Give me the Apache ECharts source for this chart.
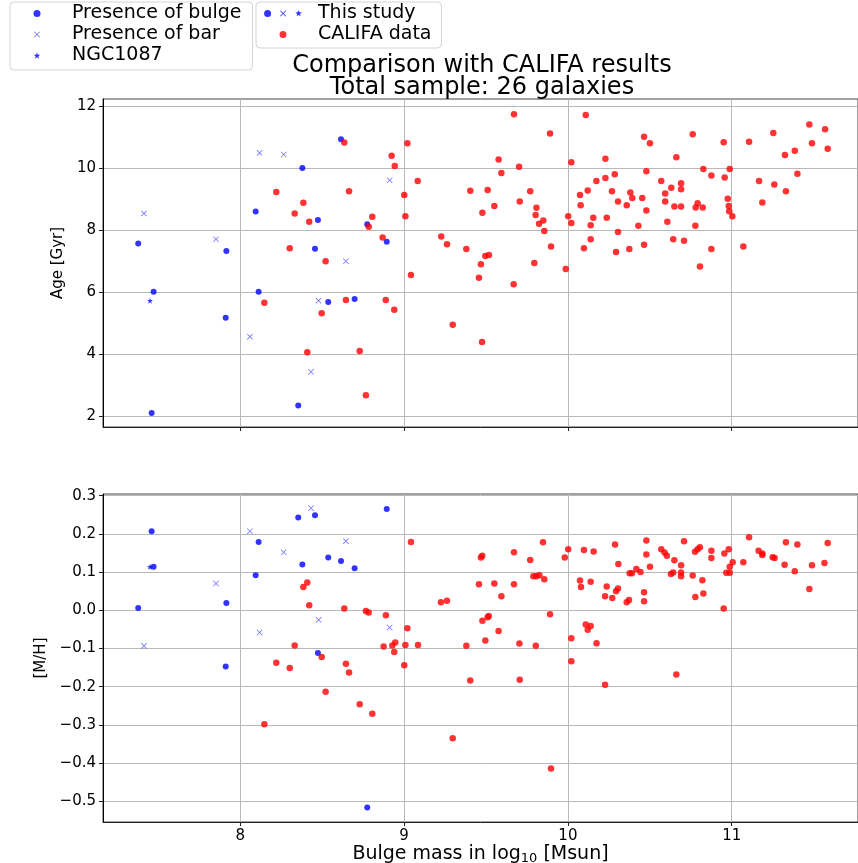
<!DOCTYPE html>
<html>
<head>
<meta charset="utf-8" />
<title>Comparison with CALIFA results</title>
<script src="https://cdn.jsdelivr.net/npm/echarts@6/dist/echarts.min.js"></script>
<style>
  html, body { margin: 0; padding: 0; background: #fff; }
  #chart { width: 858px; height: 863px; }
</style>
</head>
<body>
<div id="chart"></div>
<script>
// --- this study: bulge mass (log10 Msun), age (Gyr), [M/H]
var bulgeMass = [8.615, 8.379, 8.094, 8.474, 7.377, 7.915, 8.456, 7.471, 8.112, 8.537, 8.698, 7.911, 8.354, 7.459, 8.775, 8.894];
var bulgeAge  = [10.93, 10.00, 8.60, 8.33, 7.57, 7.33, 7.40, 6.02, 6.02, 5.69, 5.78, 5.18, 2.35, 2.11, 8.19, 7.63];
var bulgeMH   = [0.129, 0.120, 0.092, -0.112, 0.006, 0.019, 0.249, 0.114, 0.179, 0.138, 0.110, -0.147, 0.243, 0.207, -0.516, 0.265];

var barMass = [8.118, 8.265, 7.412, 7.852, 8.645, 8.478, 8.059, 8.432, 8.912];
var barAge  = [10.49, 10.44, 8.54, 7.71, 7.00, 5.73, 4.57, 3.44, 9.61];
var barMH   = [-0.058, 0.152, -0.093, 0.070, 0.181, -0.025, 0.207, 0.267, -0.045];

var ngcMass = [7.449];
var ngcAge  = [5.73];
var ngcMH   = [0.114];

// --- CALIFA sample, upper panel (age)
var califaMassA = [8.635, 8.220, 8.664, 8.385, 8.332, 8.421, 8.302, 8.521, 8.147, 8.645, 8.497, 8.409, 8.729,
  9.671, 10.109, 9.891, 9.020, 8.924, 9.577, 8.943, 9.702, 10.021, 10.229, 9.594, 9.083, 9.404, 9.510, 9.770, 9.001,
  9.706, 9.551, 10.074, 10.121, 10.174, 10.229, 9.808, 9.478, 8.806, 9.008, 9.803, 9.850, 9.824, 8.784, 9.856, 10.078,
  10.002, 10.021, 10.139, 10.155, 10.237, 8.869, 9.227, 9.262, 9.380, 10.139, 10.098, 9.897, 9.496, 9.518, 9.469,
  9.795, 9.987, 9.457, 9.042, 9.669, 8.888, 8.940, 9.297, 9.476, 8.767,
  11.474, 11.570, 11.254, 10.762, 10.465, 10.501, 10.951, 11.106, 11.490, 11.586, 11.385, 11.325, 10.662, 10.827,
  10.988, 10.479, 10.876, 10.957, 11.401, 10.286, 10.570, 11.167, 11.260, 10.631, 10.691, 10.691, 11.331, 10.269,
  10.381, 10.393, 10.454, 10.594, 10.306, 10.359, 10.594, 10.479, 10.650, 10.691, 10.792, 10.780, 10.823, 10.976,
  10.982, 10.985, 11.004, 11.187, 10.607, 10.430, 10.778, 10.306, 10.643, 10.709, 10.465, 11.071, 10.294, 10.375,
  10.876, 10.806];
var califaAge = [10.82, 9.23, 9.25, 8.88, 8.54, 8.27, 7.42, 7.00, 5.66, 5.75, 5.32, 4.07, 4.11,
  11.73, 11.71, 11.11, 10.80, 10.40, 10.28, 10.07, 10.04, 10.19, 10.30, 9.84, 9.58, 9.27, 9.29, 9.25, 9.13,
  8.92, 8.78, 9.13, 9.28, 9.58, 9.68, 8.72, 8.56, 8.43, 8.45, 8.49, 8.31, 8.21, 8.11, 7.97, 8.80,
  8.45, 8.23, 8.16, 8.40, 8.40, 7.76, 7.80, 7.55, 7.39, 7.71, 7.42, 7.47, 7.17, 7.20, 6.90,
  6.94, 6.75, 6.47, 6.56, 6.26, 5.75, 5.44, 4.95, 4.40, 2.68,
  11.40, 11.25, 11.13, 11.09, 11.01, 10.80, 10.83, 10.85, 10.80, 10.62, 10.56, 10.42, 10.35, 9.97,
  9.97, 9.90, 9.76, 9.70, 9.82, 9.80, 9.58, 9.58, 9.47, 9.37, 9.51, 9.32, 9.25, 9.25,
  9.21, 9.04, 9.04, 9.18, 8.92, 8.80, 8.92, 8.63, 8.76, 8.76, 8.87, 8.73, 8.73, 9.01,
  8.78, 8.61, 8.45, 8.89, 8.27, 8.14, 8.14, 7.94, 7.71, 7.66, 7.53, 7.47, 7.30, 7.39,
  7.39, 6.83];

// --- CALIFA sample, lower panel ([M/H])
var califaMassM = [8.409, 8.385, 8.421, 8.635, 8.332, 8.497, 8.220, 8.302, 8.645, 8.664, 8.521, 8.729, 8.147,
  9.042, 9.848, 10.002, 10.098, 10.157, 9.671, 9.477, 9.469, 9.770, 9.981, 9.789, 9.807, 9.826, 9.856, 9.457, 9.551,
  9.671, 10.074, 10.080, 10.139, 10.237, 9.594, 10.227, 9.225, 9.262, 8.767, 8.784, 8.889, 9.891, 9.517, 9.510,
  9.478, 9.020, 9.577, 10.109, 10.139, 10.121, 10.021, 9.496, 8.875, 8.928, 8.946, 9.008, 9.085, 9.380, 9.704,
  9.804, 10.175, 8.940, 9.001, 10.021, 9.404, 9.706, 10.227, 8.806, 9.297, 9.897,
  11.106, 10.479, 10.709, 11.331, 11.586, 10.288, 11.401, 10.570, 10.806, 10.792, 10.776, 10.876, 10.982, 10.955,
  10.590, 10.604, 10.479, 11.164, 11.187, 11.187, 11.250, 11.262, 10.876, 10.650, 11.006, 11.071, 11.566, 10.308,
  10.501, 10.691, 10.988, 11.323, 11.490, 10.418, 10.443, 10.377, 10.391, 10.629, 10.643, 10.691, 10.691, 10.762,
  10.821, 10.967, 10.988, 11.385, 10.271, 10.294, 10.306, 10.359, 10.373, 10.465, 10.465, 10.778, 10.827, 11.474,
  10.951, 10.662];
var califaMH = [0.073, 0.061, 0.013, 0.005, -0.092, -0.122, -0.137, -0.151, -0.140, -0.163, -0.213, -0.246, -0.298,
  0.179, 0.178, 0.160, 0.158, 0.154, 0.152, 0.143, 0.138, 0.132, 0.138, 0.089, 0.089, 0.092, 0.081, 0.068, 0.070,
  0.068, 0.078, 0.061, 0.075, 0.062, 0.037, 0.037, 0.021, 0.025, -0.002, -0.006, -0.013, -0.010, -0.015, -0.018,
  -0.027, -0.047, -0.054, -0.037, -0.041, -0.051, -0.073, -0.079, -0.095, -0.092, -0.084, -0.091, -0.091, -0.093, -0.087,
  -0.093, -0.086, -0.109, -0.144, -0.133, -0.184, -0.182, -0.195, -0.271, -0.335, -0.414,
  0.191, 0.183, 0.181, 0.178, 0.176, 0.172, 0.172, 0.160, 0.165, 0.160, 0.153, 0.156, 0.160, 0.149,
  0.151, 0.143, 0.146, 0.156, 0.149, 0.145, 0.139, 0.137, 0.137, 0.131, 0.126, 0.126, 0.124, 0.121,
  0.114, 0.118, 0.114, 0.119, 0.118, 0.108, 0.100, 0.097, 0.097, 0.095, 0.099, 0.099, 0.089, 0.091,
  0.079, 0.098, 0.098, 0.102, 0.032, 0.050, 0.057, 0.021, 0.027, 0.047, 0.024, 0.035, 0.044, 0.056,
  0.005, -0.168];

// tick labels
var massTicks = [8, 9, 10, 11];
var ageTicks = [2, 4, 6, 8, 10, 12];
var mhTicks = [-0.5, -0.4, -0.3, -0.2, -0.1, 0.0, 0.1, 0.2, 0.3];

function pairs(xs, ys) {
  return xs.map(function (x, i) { return [x, ys[i]]; });
}

var FONT = 'DejaVu Sans';
var xMark = 'path://M0,0.9L0.9,0L5,4.1L9.1,0L10,0.9L5.9,5L10,9.1L9.1,10L5,5.9L0.9,10L0,9.1L4.1,5Z';
var starMark = 'path://M5,0L6.18,3.38L9.76,3.45L6.9,5.62L7.94,9.05L5,7L2.06,9.05L3.1,5.62L0.24,3.45L3.82,3.38Z';

// legend icons drawn in a 38x7 box (two zero-length anchors keep the box width)
var ANCHORS = 'M0,3.5L0,3.5M38,3.5L38,3.5';
var dotIcon = 'path://' + ANCHORS + 'M15.5,3.5A3.5,3.5,0,1,1,22.5,3.5A3.5,3.5,0,1,1,15.5,3.5Z';
var crossIcon = 'path://' + ANCHORS +
  'M16,1.1L16.6,0.5L19,2.9L21.4,0.5L22,1.1L19.6,3.5L22,5.9L21.4,6.5L19,4.1L16.6,6.5L16,5.9L18.4,3.5Z';
var starIcon = 'path://' + ANCHORS +
  'M19,0L19.83,2.37L22.33,2.42L20.33,3.93L21.06,6.34L19,4.9L16.94,6.34L17.67,3.93L15.67,2.42L18.17,2.37Z';
// dot, cross and star side by side for the "This study" entry
var studyIcon = 'path://M0,3.5A3.5,3.5,0,1,1,7,3.5A3.5,3.5,0,1,1,0,3.5Z' +
  'M16,1.1L16.6,0.5L19,2.9L21.4,0.5L22,1.1L19.6,3.5L22,5.9L21.4,6.5L19,4.1L16.6,6.5L16,5.9L18.4,3.5Z' +
  'M34.5,0L35.33,2.37L37.83,2.42L35.83,3.93L36.56,6.34L34.5,4.9L32.44,6.34L33.17,3.93L31.17,2.42L33.67,2.37Z';

var BLUE = '#0000ff';
var BAR_BLUE = 'rgba(0,0,255,0.7)';
var RED = '#ff0000';

var gridLine = { show: true, lineStyle: { color: '#b8b8b8', width: 1 } };
var tickStyle = { fontFamily: FONT, fontSize: 15, color: '#000' };
var legendText = { fontFamily: FONT, fontSize: 19, color: '#000', padding: [0, 0, 0, 11] };

function massAxis(idx, withLabels) {
  return {
    type: 'value', gridIndex: idx, min: 7.162, max: 11.771,
    axisLine: { show: true, onZero: false, lineStyle: { color: '#222' } },
    axisTick: { show: true, length: 4, inside: false, customValues: massTicks, lineStyle: { color: '#222' } },
    axisLabel: Object.assign({ show: withLabels, margin: 7, customValues: massTicks,
      formatter: function (v) { return String(v); } }, tickStyle),
    splitLine: gridLine,
    name: withLabels ? 'Bulge mass in log{sub|10} [Msun]' : '',
    nameLocation: 'middle', nameGap: 19,
    nameTextStyle: { fontFamily: FONT, fontSize: 19, color: '#000',
      rich: { sub: { fontFamily: FONT, fontSize: 13, color: '#000', padding: [8, 0, 0, 0] } } }
  };
}

var option = {
  animation: false,
  backgroundColor: '#fff',
  title: {
    text: 'Comparison with CALIFA results\nTotal sample: 26 galaxies',
    left: 482, top: 55, padding: 0, textAlign: 'center',
    textStyle: { fontFamily: FONT, fontSize: 24, fontWeight: 'normal', color: '#000', lineHeight: 22 }
  },
  legend: [{
    orient: 'vertical', left: 10, top: 2,
    padding: [2, 11, 5, 8], itemWidth: 38, itemHeight: 7, itemGap: 2,
    backgroundColor: '#fff', borderColor: '#d4d4d4', borderWidth: 1, borderRadius: 4,
    selectedMode: false,
    textStyle: legendText,
    data: [
      { name: 'Presence of bulge', icon: dotIcon },
      { name: 'Presence of bar', icon: crossIcon },
      { name: 'NGC1087', icon: starIcon }
    ]
  }, {
    orient: 'vertical', left: 256, top: 2,
    padding: [2, 10, 4, 8], itemWidth: 38, itemHeight: 7, itemGap: 2,
    backgroundColor: '#fff', borderColor: '#d4d4d4', borderWidth: 1, borderRadius: 4,
    selectedMode: false,
    textStyle: legendText,
    data: [
      { name: 'This study', icon: studyIcon },
      { name: 'CALIFA data', icon: dotIcon }
    ]
  }],
  grid: [
    { left: 103, top: 99, width: 755, height: 328, show: true, borderColor: '#444', borderWidth: 1, outerBoundsMode: 'none' },
    { left: 103, top: 494, width: 755, height: 328, show: true, borderColor: '#444', borderWidth: 1, outerBoundsMode: 'none' }
  ],
  xAxis: [massAxis(0, false), massAxis(1, true)],
  yAxis: [{
    type: 'value', gridIndex: 0, min: 1.66, max: 12.225,
    axisLine: { show: true, onZero: false, lineStyle: { color: '#000' } },
    axisTick: { show: true, length: 4, customValues: ageTicks, lineStyle: { color: '#222' } },
    axisLabel: Object.assign({ margin: 7, customValues: ageTicks,
      formatter: function (v) { return String(v); } }, tickStyle),
    splitLine: gridLine,
    name: 'Age [Gyr]', nameLocation: 'middle', nameGap: 37,
    nameTextStyle: { fontFamily: FONT, fontSize: 15, color: '#000' }
  }, {
    type: 'value', gridIndex: 1, min: -0.554, max: 0.3044, splitNumber: 8,
    axisLine: { show: true, onZero: false, lineStyle: { color: '#000' } },
    axisTick: { show: true, length: 4, customValues: mhTicks, lineStyle: { color: '#222' } },
    axisLabel: Object.assign({ margin: 7, customValues: mhTicks,
      formatter: function (v) { return v.toFixed(1).replace('-', '\u2212'); } }, tickStyle),
    splitLine: gridLine,
    name: '[M/H]', nameLocation: 'middle', nameGap: 53,
    nameTextStyle: { fontFamily: FONT, fontSize: 15, color: '#000' }
  }],
  series: [
    { name: 'Presence of bulge', type: 'scatter', xAxisIndex: 0, yAxisIndex: 0, symbol: 'circle', symbolSize: 6,
      itemStyle: { color: BLUE }, data: pairs(bulgeMass, bulgeAge) },
    { name: 'Presence of bar', type: 'scatter', xAxisIndex: 0, yAxisIndex: 0, symbol: xMark, symbolSize: 6,
      itemStyle: { color: BAR_BLUE }, data: pairs(barMass, barAge) },
    { name: 'NGC1087', type: 'scatter', xAxisIndex: 0, yAxisIndex: 0, symbol: starMark, symbolSize: 6,
      itemStyle: { color: BLUE }, data: pairs(ngcMass, ngcAge) },
    { name: 'CALIFA data', type: 'scatter', xAxisIndex: 0, yAxisIndex: 0, symbol: 'circle', symbolSize: 6.5,
      itemStyle: { color: RED }, data: pairs(califaMassA, califaAge) },

    { name: 'Presence of bulge', type: 'scatter', xAxisIndex: 1, yAxisIndex: 1, symbol: 'circle', symbolSize: 6,
      itemStyle: { color: BLUE }, data: pairs(bulgeMass, bulgeMH) },
    { name: 'Presence of bar', type: 'scatter', xAxisIndex: 1, yAxisIndex: 1, symbol: xMark, symbolSize: 6,
      itemStyle: { color: BAR_BLUE }, data: pairs(barMass, barMH) },
    { name: 'NGC1087', type: 'scatter', xAxisIndex: 1, yAxisIndex: 1, symbol: starMark, symbolSize: 6,
      itemStyle: { color: BLUE }, data: pairs(ngcMass, ngcMH) },
    { name: 'CALIFA data', type: 'scatter', xAxisIndex: 1, yAxisIndex: 1, symbol: 'circle', symbolSize: 6.5,
      itemStyle: { color: RED }, data: pairs(califaMassM, califaMH) },

    // legend-only entry
    { name: 'This study', type: 'scatter', xAxisIndex: 0, yAxisIndex: 0, itemStyle: { color: BLUE }, data: [] }
  ]
};

var chart = echarts.init(document.getElementById('chart'));
chart.setOption(option);
</script>
</body>
</html>
